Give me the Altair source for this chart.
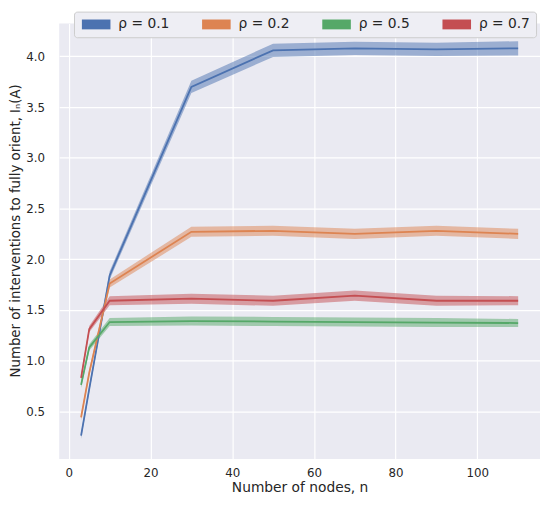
import altair as alt
import pandas as pd

# number of nodes on the x axis
n_nodes = [3, 5, 10, 30, 50, 70, 90, 110]

rho_labels = ['ρ = 0.1', 'ρ = 0.2', 'ρ = 0.5', 'ρ = 0.7']

# mean number of interventions
mean_01 = [0.26, 0.72, 1.84, 3.70, 4.06, 4.08, 4.07, 4.08]
mean_02 = [0.44, 0.88, 1.76, 2.27, 2.28, 2.25, 2.28, 2.25]
mean_05 = [0.76, 1.13, 1.38, 1.39, 1.385, 1.38, 1.375, 1.37]
mean_07 = [0.83, 1.31, 1.59, 1.61, 1.59, 1.64, 1.59, 1.59]

# half width of the confidence band
half_01 = [0.03, 0.03, 0.04, 0.06, 0.065, 0.065, 0.065, 0.07]
half_02 = [0.03, 0.03, 0.04, 0.05, 0.05, 0.05, 0.05, 0.05]
half_05 = [0.03, 0.03, 0.04, 0.045, 0.045, 0.045, 0.045, 0.04]
half_07 = [0.03, 0.03, 0.045, 0.05, 0.05, 0.05, 0.05, 0.045]

palette = ['#4C72B0', '#DD8452', '#55A868', '#C44E52']

rows = []
for lab, means, halfs in zip(rho_labels,
                             [mean_01, mean_02, mean_05, mean_07],
                             [half_01, half_02, half_05, half_07]):
    for n, m, h in zip(n_nodes, means, halfs):
        rows.append({'n': n, 'rho': lab, 'mean': m, 'lo': m - h, 'hi': m + h})
df = pd.DataFrame(rows)

FONT = 'DejaVu Sans'
TXT = '#262626'

x = alt.X('n:Q',
          scale=alt.Scale(domain=[-2.35, 115.35], nice=False, zero=False),
          axis=alt.Axis(values=[0, 20, 40, 60, 80, 100], title='Number of nodes, n',
                        labelPadding=9, titleY=33, titleBaseline='alphabetic',
                        titleFontSize=14))
yscale = alt.Scale(domain=[0.03, 4.325], nice=False, zero=False)
yaxis = alt.Axis(values=[0.5, 1.0, 1.5, 2.0, 2.5, 3.0, 3.5, 4.0], format='.1f',
                 title='Number of interventions to fully orient, Iₙ(A)',
                 labelPadding=15, titleX=-40, titleY=210, titleAngle=-90,
                 titleAlign='center', titleBaseline='alphabetic', titleFontSize=13.5)

color_scale = alt.Scale(domain=rho_labels, range=palette)

band = alt.Chart(df).mark_area(opacity=0.5).encode(
    x=x,
    y=alt.Y('lo:Q', scale=yscale, axis=yaxis),
    y2='hi:Q',
    color=alt.Color('rho:N', scale=color_scale, sort=rho_labels,
                    legend=alt.Legend(title=None, orient='none', legendX=15, legendY=-12,
                                      direction='horizontal', columns=4,
                                      symbolType='M-1,-1h5.8v2h-5.8z', symbolSize=100,
                                      symbolOpacity=1, symbolStrokeWidth=0,
                                      labelOffset=25, columnPadding=31,
                                      labelFont=FONT, labelFontSize=14, labelColor=TXT,
                                      fillColor='#EEEEF4', strokeColor='#CCCCCC',
                                      cornerRadius=3, padding=6))
)

line = alt.Chart(df).mark_line(strokeWidth=1.8).encode(
    x=x,
    y=alt.Y('mean:Q', scale=yscale, axis=yaxis),
    color=alt.Color('rho:N', scale=color_scale, sort=rho_labels, legend=None)
)

chart = alt.layer(band, line).properties(
    width=488, height=442,
    autosize=alt.AutoSizeParams(type='none'),
    padding={'left': 52, 'top': 12, 'right': 0, 'bottom': 36}
).configure_view(
    fill='#EAEAF2', strokeWidth=0
).configure_axis(
    grid=True, gridColor='white', gridWidth=1.2, domain=False, ticks=False, tickSize=0,
    labelFont=FONT, labelFontSize=12, labelColor=TXT,
    titleFont=FONT, titleFontSize=13, titleColor=TXT, titleFontWeight='normal'
)

chart.save('out.html', embed_options={'renderer': 'svg', 'actions': False})
